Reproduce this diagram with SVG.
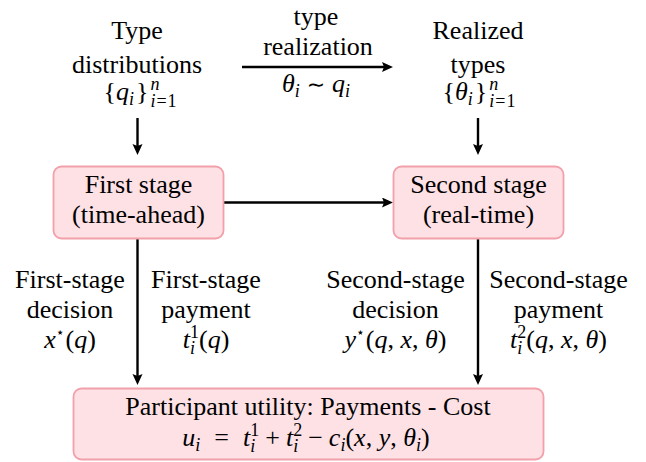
<svg xmlns="http://www.w3.org/2000/svg" width="646" height="462" viewBox="0 0 646 462">
<style>
.box{fill:#fde1e5;stroke:#f2a0aa;stroke-width:1.8}
.c{stroke:#000;stroke-width:2.4;fill:none;marker-end:url(#ah)}
</style>
<defs>
<marker id="ah" markerUnits="userSpaceOnUse" markerWidth="14" markerHeight="12" refX="3" refY="5" orient="auto">
<path d="M0,0 L11,5 L0,10 L2,5 z" fill="#000" stroke="none"/>
</marker>
</defs>
<rect width="646" height="462" fill="#fff"/>
<g id="connectors">
<line class="c" x1="242" y1="67" x2="385" y2="67"/>
<line class="c" x1="137.5" y1="118" x2="137.5" y2="147"/>
<line class="c" x1="478" y1="118" x2="478" y2="147"/>
<line class="c" x1="224" y1="202.5" x2="385" y2="202.5"/>
<line class="c" x1="137.5" y1="239" x2="137.5" y2="377"/>
<line class="c" x1="478" y1="239" x2="478" y2="377"/>
</g>
<g id="type-distributions">
<text font-family="Liberation Serif" font-size="26" text-anchor="middle" x="137" y="39">Type</text>
<text font-family="Liberation Serif" font-size="26" text-anchor="middle" x="137" y="73">distributions</text>
<text font-family="Liberation Serif" font-size="26" text-anchor="middle" x="140" y="100">{<tspan font-style="italic">q</tspan><tspan font-size="18" font-style="italic" dy="5">i</tspan><tspan dy="-5" dx="2">}</tspan><tspan font-size="18" font-style="italic" dx="2" dy="-10">n</tspan><tspan font-size="18" dx="-9" dy="17"><tspan font-style="italic">i</tspan><tspan dx="1">=</tspan><tspan dx="1">1</tspan></tspan></text>
</g>
<g id="type-realization">
<text font-family="Liberation Serif" font-size="26" text-anchor="middle" x="316" y="25">type</text>
<text font-family="Liberation Serif" font-size="26" text-anchor="middle" x="318" y="55">realization</text>
<text font-family="Liberation Serif" font-size="26" text-anchor="middle" x="316" y="92"><tspan font-style="italic">θ</tspan><tspan font-size="18" font-style="italic" dy="5">i</tspan><tspan dy="-5" dx="7" font-family="DejaVu Sans" font-size="22">∼</tspan><tspan font-style="italic" dx="7">q</tspan><tspan font-size="18" font-style="italic" dy="5">i</tspan></text>
</g>
<g id="realized-types">
<text font-family="Liberation Serif" font-size="26" text-anchor="middle" x="478" y="39">Realized</text>
<text font-family="Liberation Serif" font-size="26" text-anchor="middle" x="478" y="73">types</text>
<text font-family="Liberation Serif" font-size="26" text-anchor="middle" x="479" y="100">{<tspan font-style="italic">θ</tspan><tspan font-size="18" font-style="italic" dy="5">i</tspan><tspan dy="-5" dx="2">}</tspan><tspan font-size="18" font-style="italic" dx="2" dy="-10">n</tspan><tspan font-size="18" dx="-9" dy="17"><tspan font-style="italic">i</tspan><tspan dx="1">=</tspan><tspan dx="1">1</tspan></tspan></text>
</g>
<g id="first-stage">
<rect class="box" x="53.5" y="166.5" width="170" height="72" rx="8"/>
<text font-family="Liberation Serif" font-size="26" text-anchor="middle" x="138.5" y="193">First stage</text>
<text font-family="Liberation Serif" font-size="26" text-anchor="middle" x="138.5" y="223">(time-ahead)</text>
</g>
<g id="second-stage">
<rect class="box" x="393.5" y="166.5" width="170" height="72" rx="8"/>
<text font-family="Liberation Serif" font-size="26" text-anchor="middle" x="478.5" y="193">Second stage</text>
<text font-family="Liberation Serif" font-size="26" text-anchor="middle" x="478.5" y="223">(real-time)</text>
</g>
<g id="labels">
<text font-family="Liberation Serif" font-size="26" text-anchor="middle" x="70" y="288">First-stage</text>
<text font-family="Liberation Serif" font-size="26" text-anchor="middle" x="70" y="318">decision</text>
<text font-family="Liberation Serif" font-size="26" text-anchor="middle" x="70" y="348"><tspan font-style="italic">x</tspan><tspan font-size="14" font-family="DejaVu Sans" dy="-11">⋆</tspan><tspan dy="11" dx="1">(</tspan><tspan font-style="italic">q</tspan>)</text>
<text font-family="Liberation Serif" font-size="26" text-anchor="middle" x="206" y="288">First-stage</text>
<text font-family="Liberation Serif" font-size="26" text-anchor="middle" x="206" y="318">payment</text>
<text font-family="Liberation Serif" font-size="26" text-anchor="middle" x="206" y="348"><tspan font-style="italic">t</tspan><tspan font-size="18" dy="-10">1</tspan><tspan font-size="18" font-style="italic" dx="-9" dy="16">i</tspan><tspan dx="4" dy="-6">(</tspan><tspan font-style="italic">q</tspan>)</text>
<text font-family="Liberation Serif" font-size="26" text-anchor="middle" x="395.5" y="288">Second-stage</text>
<text font-family="Liberation Serif" font-size="26" text-anchor="middle" x="395.5" y="318">decision</text>
<text font-family="Liberation Serif" font-size="26" text-anchor="middle" x="395.5" y="348"><tspan font-style="italic">y</tspan><tspan font-size="14" font-family="DejaVu Sans" dy="-11">⋆</tspan><tspan dy="11" dx="1">(</tspan><tspan font-style="italic">q</tspan>, <tspan font-style="italic">x</tspan>, <tspan font-style="italic">θ</tspan>)</text>
<text font-family="Liberation Serif" font-size="26" text-anchor="middle" x="558.5" y="288">Second-stage</text>
<text font-family="Liberation Serif" font-size="26" text-anchor="middle" x="558.5" y="318">payment</text>
<text font-family="Liberation Serif" font-size="26" text-anchor="middle" x="558.5" y="348"><tspan font-style="italic">t</tspan><tspan font-size="18" dy="-10">2</tspan><tspan font-size="18" font-style="italic" dx="-9" dy="16">i</tspan><tspan dx="4" dy="-6">(</tspan><tspan font-style="italic">q</tspan>, <tspan font-style="italic">x</tspan>, <tspan font-style="italic">θ</tspan>)</text>
</g>
<g id="participant-utility">
<rect class="box" x="73.5" y="388.5" width="470" height="71" rx="8"/>
<text font-family="Liberation Serif" font-size="26" text-anchor="middle" x="308" y="415">Participant utility: Payments - Cost</text>
<text font-family="Liberation Serif" font-size="26" text-anchor="middle" x="306" y="446"><tspan font-style="italic">u</tspan><tspan font-size="18" font-style="italic" dy="5">i</tspan><tspan dy="-5" dx="14">=</tspan><tspan font-style="italic" dx="14">t</tspan><tspan font-size="18" dy="-10">1</tspan><tspan font-size="18" font-style="italic" dx="-9" dy="16">i</tspan><tspan dx="10" dy="-6">+</tspan><tspan font-style="italic" dx="6">t</tspan><tspan font-size="18" dy="-10">2</tspan><tspan font-size="18" font-style="italic" dx="-9" dy="16">i</tspan><tspan dx="10" dy="-6">−</tspan><tspan font-style="italic" dx="6">c</tspan><tspan font-size="18" font-style="italic" dy="5">i</tspan><tspan dy="-5">(</tspan><tspan font-style="italic">x</tspan>, <tspan font-style="italic">y</tspan>, <tspan font-style="italic">θ</tspan><tspan font-size="18" font-style="italic" dy="5">i</tspan><tspan dy="-5">)</tspan></text>
</g>
</svg>
